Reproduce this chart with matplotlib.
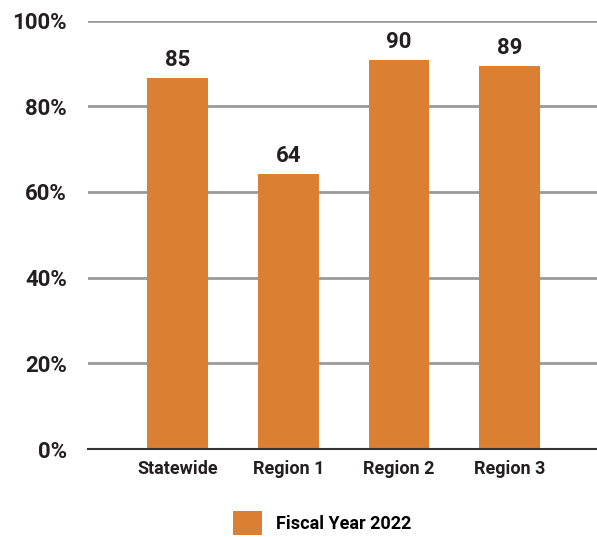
import numpy as np
import matplotlib
matplotlib.use('Agg')
from matplotlib import pyplot as plt
from matplotlib.patches import Patch

plt.rcParams['font.family'] = ['Roboto', 'Liberation Sans', 'DejaVu Sans']
plt.rcParams['font.weight'] = 'bold'

categories = ['Statewide', 'Region 1', 'Region 2', 'Region 3']
heights = [86.5, 64.2, 90.7, 89.3]
bar_labels = ['85', '64', '90', '89']
yticks = [0, 20, 40, 60, 80, 100]
series_name = 'Fiscal Year 2022'

orange = '#DB8033'
text_col = '#231F20'

fig = plt.figure(figsize=(5.97, 5.37), dpi=100)
ax = fig.add_axes([88/597, 1 - 449/537, 1 - 88/597, (449 - 20.5)/537])

x = np.arange(len(categories))
bars = ax.bar(x, heights, width=0.55, color=orange, zorder=3)

for b, lab in zip(bars, bar_labels):
    ax.text(b.get_x() + b.get_width()/2, b.get_height() + 1.6, lab,
            ha='center', va='bottom', fontsize=16, fontweight='bold', color=text_col)

ax.set_ylim(0, 100)
ax.set_xlim(-0.81, 3.79)
ax.set_yticks(yticks)
ax.set_yticklabels([f'{t}%' for t in yticks], fontsize=16, fontweight='bold', color=text_col)
ax.set_xticks(x)
ax.set_xticklabels(categories, fontsize=13, fontweight='bold', color=text_col)
ax.tick_params(axis='both', length=0)
ax.tick_params(axis='y', pad=15)
ax.tick_params(axis='x', pad=8)

for t in yticks[1:]:
    ax.axhline(t, color='#9A9A9C', lw=2, zorder=1)
for s in ['top', 'right', 'left']:
    ax.spines[s].set_visible(False)
ax.spines['bottom'].set_color('#333333')
ax.spines['bottom'].set_linewidth(1.5)
ax.spines['bottom'].set_zorder(4)

handle = [Patch(facecolor=orange, label=series_name)]
fig.legend(handles=handle, loc='center', bbox_to_anchor=(322/597, 1 - 523/537),
           frameon=False, fontsize=13, handlelength=1.6, handleheight=1.6,
           handletextpad=0.8)

plt.savefig('out.png', dpi=100)
